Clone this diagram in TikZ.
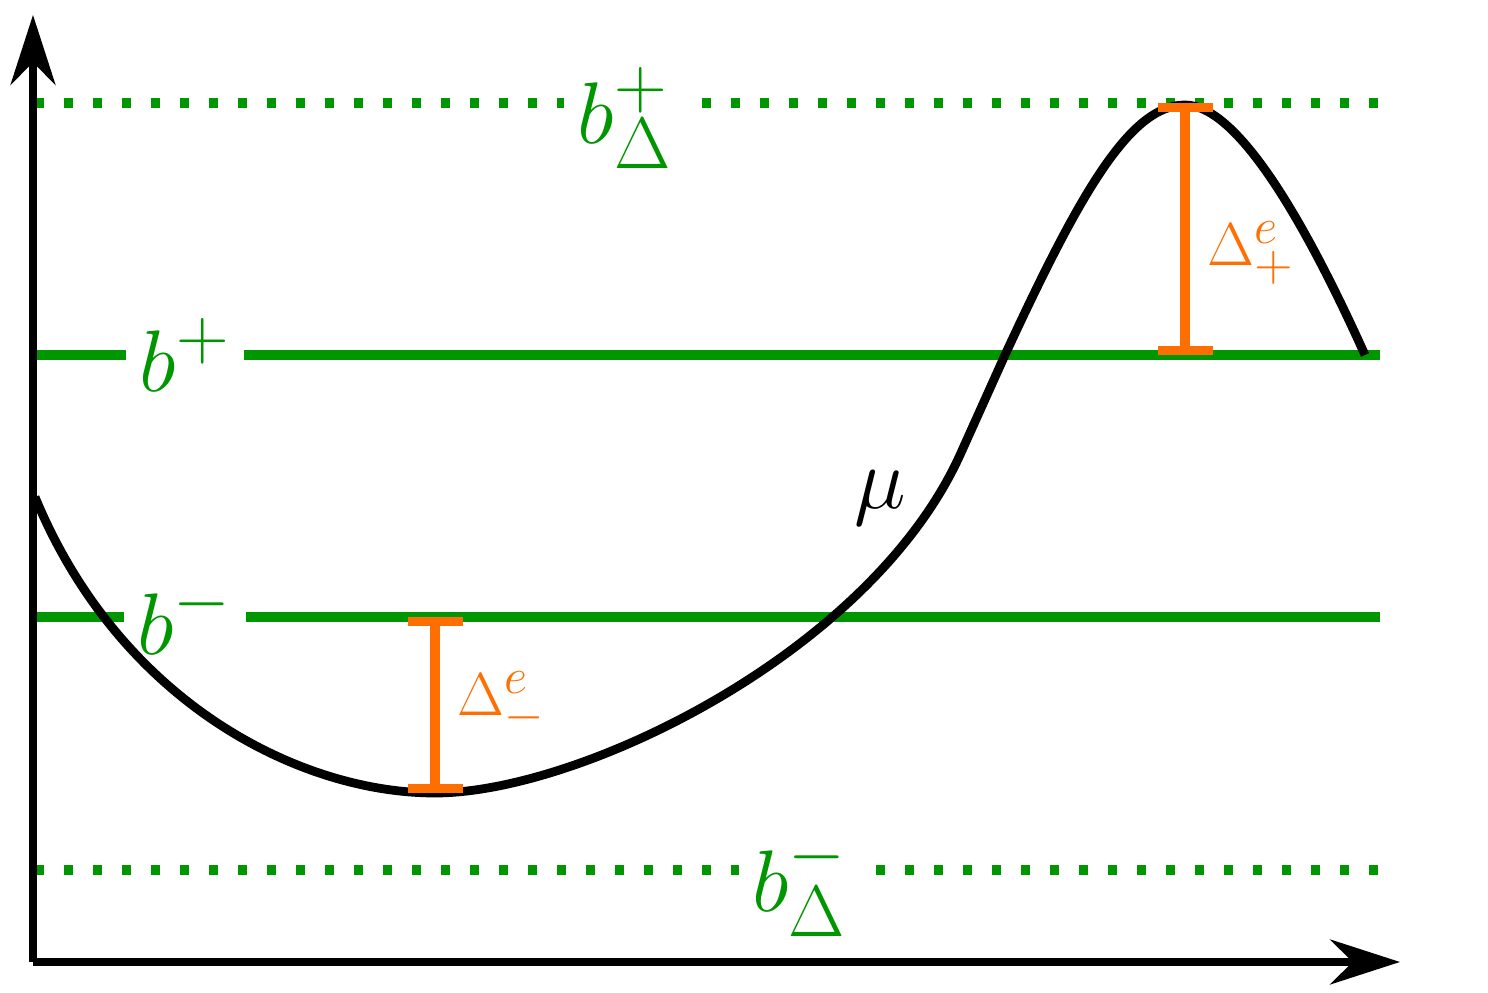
\documentclass[tikz,border=0pt]{standalone}
\usetikzlibrary{arrows.meta}
\definecolor{lvlgreen}{RGB}{0,150,0}
\definecolor{gaporange}{RGB}{255,110,0}
\tikzset{
  level/.style={lvlgreen, line width=2.6pt},
  dotlevel/.style={lvlgreen, line width=2.6pt, dash pattern=on 0.09cm off 0.2cm},
  lvllabel/.style={lvlgreen, fill=white, inner sep=4pt, font=\fontsize{28}{32}\selectfont},
  gap/.style={gaporange, line width=2.6pt, {Bar[width=0.55cm]}-{Bar[width=0.55cm]}},
  gaplabel/.style={gaporange, font=\fontsize{19}{23}\selectfont, right}
}
\begin{document}
\begin{tikzpicture}
  \useasboundingbox (0,0) rectangle (14.88,9.93);

  % levels
  \draw[dotlevel] (0.35,8.9) -- (13.8,8.9);
  \draw[level] (0.35,6.38) -- (13.8,6.38);
  \draw[level] (0.35,3.76) -- (13.8,3.76);
  \draw[dotlevel] (0.35,1.23) -- (13.8,1.23);

  \node[lvllabel] (bDp) at (6.25,8.75) {$b^+_\Delta$};
  \node[lvllabel] (bp) at (1.85,6.38) {$b^+$};
  \node[lvllabel] (bm) at (1.85,3.76) {$b^-$};
  \node[lvllabel] (bDm) at (8.0,1.08) {$b^-_\Delta$};

  % curve mu
  \draw[line width=2.5pt] (0.35,4.96) .. controls (1.2,2.9) and (3,2.0) .. (4.35,2.0)
    .. controls (5.8,2.0) and (8.7,3.4) .. (9.6,5.38) -- (10.05,6.38)
    .. controls (10.8,8.0) and (11.3,8.88) .. (11.85,8.88)
    .. controls (12.4,8.88) and (13.1,7.6) .. (13.65,6.38);
  \node[font=\fontsize{28}{32}\selectfont] (mu) at (8.8,4.95) {$\mu$};

  % gaps
  \coordinate (gmTop) at (4.35,3.76);
  \coordinate (gmBot) at (4.35,2.0);
  \coordinate (gpTop) at (11.85,8.9);
  \coordinate (gpBot) at (11.85,6.38);
  \draw[gap] (gmTop) -- (gmBot);
  \draw[gap] (gpTop) -- (gpBot);
  \node[gaplabel] (dm) at (4.45,2.9) {$\Delta^e_-$};
  \node[gaplabel] (dp) at (11.95,7.4) {$\Delta^e_+$};

  % axes
  \coordinate (origin) at (0.33,0.31);
  \draw[line width=2pt, -{Stealth[length=0.7cm,width=0.45cm]}] (origin) -- (0.33,9.78);
  \draw[line width=2pt, -{Stealth[length=0.7cm,width=0.45cm]}] (origin) -- (14.0,0.31);
\end{tikzpicture}
\end{document}
